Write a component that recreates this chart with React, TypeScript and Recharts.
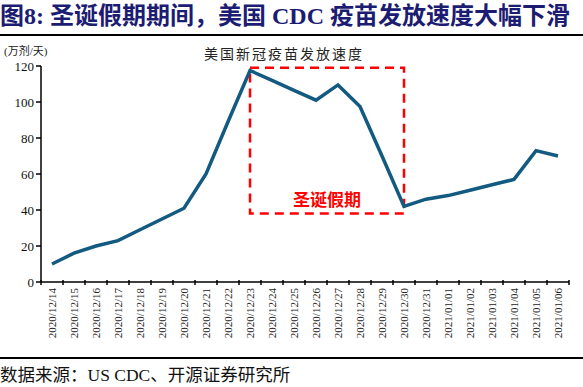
import * as React from 'react';
import { LineChart, Line, XAxis, YAxis, ReferenceArea } from 'recharts';

const dates = [
  '2020/12/14', '2020/12/15', '2020/12/16', '2020/12/17', '2020/12/18', '2020/12/19',
  '2020/12/20', '2020/12/21', '2020/12/22', '2020/12/23', '2020/12/24', '2020/12/25',
  '2020/12/26', '2020/12/27', '2020/12/28', '2020/12/29', '2020/12/30', '2020/12/31',
  '2021/01/01', '2021/01/02', '2021/01/03', '2021/01/04', '2021/01/05', '2021/01/06',
];
const speed = [10, 16, 20, 23, 29, 35, 41, 60, 89, 117.5, 112, 106.5, 101, 109.5, 97.5, 70, 42, 46, 48, 51, 54, 57, 73, 70];
const yTicks = [0, 20, 40, 60, 80, 100, 120];
const holiday = { from: '2020/12/23', to: '2020/12/30', low: 38, high: 119, label: '圣诞假期' };

const data = dates.map((d, i) => ({ date: d, v: speed[i] }));

const serif = '"Liberation Serif", "Noto Sans CJK SC", serif';
const HALF_BAND = 11;

const DateTick = (props: any) => {
  const { x, y, payload, index } = props;
  return (
    <g>
      <line x1={x - HALF_BAND} x2={x - HALF_BAND} y1={y - 8} y2={y - 3} stroke="#000" strokeWidth={1.5} />
      {index === dates.length - 1 && (
        <line x1={x + HALF_BAND} x2={x + HALF_BAND} y1={y - 8} y2={y - 3} stroke="#000" strokeWidth={1.5} />
      )}
      <text
        x={0}
        y={0}
        transform={`translate(${x + 4},${y}) rotate(-90)`}
        textAnchor="end"
        fontSize={11}
        fontFamily={serif}
        fill="#222"
      >
        {payload.value}
      </text>
    </g>
  );
};

export default function App() {
  return (
    <div style={{ position: 'absolute', left: 0, top: 0, width: 583, height: 387, background: '#fff', overflow: 'hidden' }}>
      <div style={{ position: 'absolute', left: 0, top: 1, fontFamily: serif, fontWeight: 'bold', fontSize: 24, lineHeight: '30px', color: '#1c1c72', whiteSpace: 'nowrap' }}>
        图8:&nbsp;圣诞假期期间，美国 CDC 疫苗发放速度大幅下滑
      </div>
      <div style={{ position: 'absolute', left: 0, top: 34, width: 583, height: 2, background: '#000' }} />
      <div style={{ position: 'absolute', left: 4, top: 42, fontFamily: serif, fontSize: 11, color: '#222' }}>(万剂/天)</div>
      <div style={{ position: 'absolute', left: 204, top: 43, fontFamily: serif, fontSize: 14, letterSpacing: 2, color: '#222' }}>美国新冠疫苗发放速度</div>
      <div style={{ position: 'absolute', left: 0, top: 0 }}>
        <LineChart width={583} height={387} data={data} margin={{ top: 66, right: 14, bottom: 30, left: 0 }}>
          <XAxis
            dataKey="date"
            interval={0}
            padding={{ left: HALF_BAND, right: HALF_BAND }}
            tickLine={false}
            axisLine={{ stroke: '#000', strokeWidth: 1.5 }}
            tick={<DateTick />}
            height={75}
            tickMargin={0}
          />
          <YAxis
            domain={[0, 120]}
            ticks={yTicks}
            width={41}
            tickSize={5}
            tickLine={{ stroke: '#000', strokeWidth: 1.5 }}
            axisLine={{ stroke: '#000', strokeWidth: 1.5 }}
            tick={{ fontSize: 13, fontFamily: serif, fill: '#111' }}
          />
          <ReferenceArea
            x1={holiday.from}
            x2={holiday.to}
            y1={holiday.low}
            y2={holiday.high}
            fill="none"
            stroke="#ff0000"
            strokeWidth={2.5}
            strokeDasharray="9 6"
            label={{ value: holiday.label, position: 'insideBottom', offset: 8, fill: '#ff0000', fontSize: 17, fontWeight: 'bold', fontFamily: serif }}
          />
          <Line type="linear" dataKey="v" stroke="#135a80" strokeWidth={3.5} dot={false} isAnimationActive={false} />
        </LineChart>
      </div>
      <div style={{ position: 'absolute', left: 0, top: 357, width: 583, height: 1.5, background: '#000' }} />
      <div style={{ position: 'absolute', left: 0, top: 365, fontFamily: serif, fontSize: 17.5, lineHeight: '20px', color: '#111', whiteSpace: 'nowrap' }}>
        数据来源：US CDC、开源证券研究所
      </div>
    </div>
  );
}
